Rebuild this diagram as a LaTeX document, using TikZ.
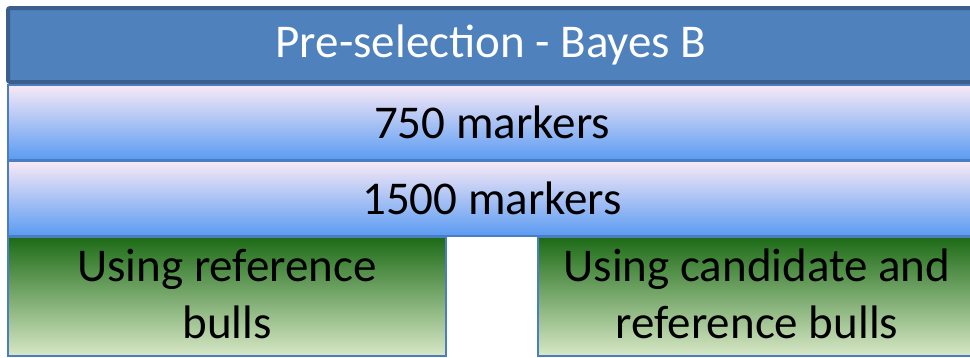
\documentclass[tikz,border=0pt]{standalone}
\usepackage{fontspec}
\setmainfont{Carlito}
\usepackage{tikz}
\usetikzlibrary{positioning}

\definecolor{hdrfill}{HTML}{4F81BD}
\definecolor{hdrline}{HTML}{3A5F8C}
\definecolor{barline}{HTML}{4A7EC0}
\definecolor{bartop}{HTML}{F8E9F6}
\definecolor{barmid}{HTML}{80BDFF}
\definecolor{barbot}{HTML}{5A9BF2}
\definecolor{grntop}{HTML}{1C6B16}
\definecolor{grnmid}{HTML}{92B466}
\definecolor{grnbot}{HTML}{D8E8C6}

\begin{document}
\begin{tikzpicture}[x=1pt,y=-1pt,
  font=\fontsize{47}{57}\selectfont,
  hdr/.style={draw=hdrline,line width=4pt,fill=hdrfill,text=white,rounded corners=2pt,
    minimum width=966pt,minimum height=74pt,inner sep=0pt},
  bar/.style={draw=barline,line width=1.5pt,top color=bartop,middle color=barmid,bottom color=barbot,
    minimum width=968pt,minimum height=75pt,inner sep=0pt},
  grn/.style={draw=barline,line width=1.5pt,top color=grntop,middle color=grnmid,bottom color=grnbot,
    minimum width=438pt,minimum height=119pt,inner sep=0pt,align=center}]
  \useasboundingbox (0,0) rectangle (970,357);
  \node[hdr] (head) at (491,45) {Pre-selection - Bayes B};
  \node[bar] (m750) at (492,122.5) {750 markers};
  \node[bar] (m1500) at (492,198.5) {1500 markers};
  % green boxes drawn first, text on top a little higher
  \node[grn] (refbulls) at (227,296.5) {};
  \node[grn] (candbulls) at (757,296.5) {};
  \node[align=center] (reftxt) at ([yshift=3pt]refbulls.center) {Using reference\\bulls};
  \node[align=center] (candtxt) at ([yshift=3pt]candbulls.center) {Using candidate and\\reference bulls};
\end{tikzpicture}
\end{document}
